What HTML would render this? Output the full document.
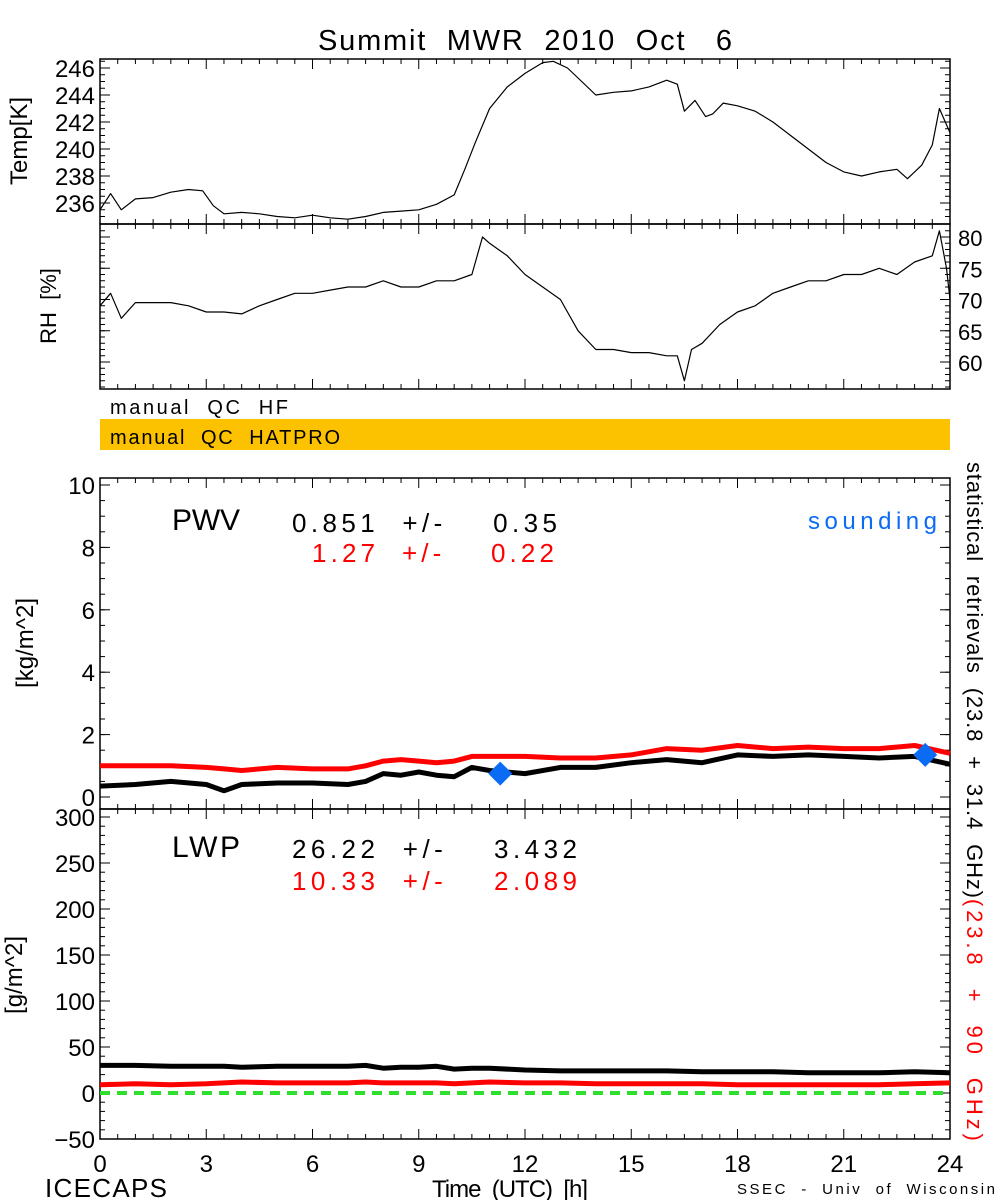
<!DOCTYPE html>
<html><head><meta charset="utf-8"><style>
body{margin:0;background:#fff}
svg{display:block}
text{font-family:"Liberation Sans",sans-serif;white-space:pre}
</style></head><body>
<svg id="c" width="1000" height="1200" viewBox="0 0 1000 1200">
<text x="318" y="50" font-size="29" textLength="414" lengthAdjust="spacing">Summit  MWR  2010  Oct   6</text>
<g id="g"></g>
</svg>
<script>
const tempHours=[0,0.3,0.6,1,1.5,2,2.5,2.9,3.2,3.5,4,4.5,5,5.5,6,6.5,7,7.5,8,8.5,9,9.5,10,10.3,10.6,11,11.5,12,12.5,12.8,13.2,13.6,14,14.5,15,15.5,16,16.3,16.5,16.8,17.1,17.3,17.6,18,18.5,19,19.5,20,20.5,21,21.5,22,22.5,22.8,23.2,23.5,23.7,24];
const tempValues=[235.5,236.7,235.5,236.3,236.4,236.8,237,236.9,235.8,235.2,235.3,235.2,235.0,234.9,235.1,234.9,234.8,235.0,235.3,235.4,235.5,235.9,236.6,238.5,240.5,243,244.6,245.6,246.4,246.5,246.0,245.0,244.0,244.2,244.3,244.6,245.1,244.8,242.8,243.6,242.4,242.6,243.4,243.2,242.8,242.0,241.0,240.0,239.0,238.3,238.0,238.3,238.5,237.8,238.8,240.3,243.0,241.2];
const rhHours=[0,0.3,0.6,1,1.5,2,2.5,3,3.5,4,4.5,5,5.5,6,6.5,7,7.5,8,8.5,9,9.5,10,10.5,10.8,11,11.5,12,12.5,13,13.5,14,14.5,15,15.5,16,16.3,16.5,16.7,17,17.5,18,18.5,19,19.5,20,20.5,21,21.5,22,22.5,23,23.5,23.7,23.9,24];
const rhValues=[69,71,67,69.5,69.5,69.5,69,68,68,67.7,69,70,71,71,71.5,72,72,73,72,72,73,73,74,80,79,77,74,72,70,65,62,62,61.5,61.5,61,61,57,62,63,66,68,69,71,72,73,73,74,74,75,74,76,77,81,75,70];
const hours=[0,1,2,3,3.5,4,5,6,7,7.5,8,8.5,9,9.5,10,10.5,11,12,13,14,15,16,17,18,19,20,21,22,23,24];
const pwvBlack=[0.35,0.4,0.5,0.4,0.2,0.4,0.45,0.45,0.4,0.5,0.75,0.7,0.8,0.7,0.65,0.95,0.85,0.75,0.95,0.95,1.1,1.2,1.1,1.35,1.3,1.35,1.3,1.25,1.3,1.05];
const pwvRed=[1.0,1.0,1.0,0.95,0.9,0.85,0.95,0.9,0.9,1.0,1.15,1.2,1.15,1.1,1.15,1.3,1.3,1.3,1.25,1.25,1.35,1.55,1.5,1.65,1.55,1.6,1.55,1.55,1.65,1.4];
const soundHours=[11.3,23.3];
const soundValues=[0.75,1.35];
const lwpBlack=[30,30,29,29,29,28,29,29,29,30,27,28,28,29,26,27,27,25,24,24,24,24,23,23,23,22,22,22,23,22];
const lwpRed=[9,10,9,10,11,12,11,11,11,12,11,11,11,11,10,11,12,11,11,10,10,10,10,9,9,9,9,9,10,11];
const xTicks=[0,3,6,9,12,15,18,21,24];
const tempTicks=[236,238,240,242,244,246];
const rhTicks=[60,65,70,75,80];
const pwvTicks=[0,2,4,6,8,10];
const lwpTicks=[-50,0,50,100,150,200,250,300];

const X0=100,X1=950;
const xs=h=>X0+(X1-X0)*h/24;
const lin=(d0,d1,r0,r1)=>v=>r0+(v-d0)*(r1-r0)/(d1-d0);
const yT=lin(236,246,203,68), yR=lin(60,80,362,237), yP=lin(0,10,797,485), yL=lin(0,300,1093,817);
const NS='http://www.w3.org/2000/svg', G=document.getElementById('g');
function mk(tag,at,txt){const e=document.createElementNS(NS,tag);for(const k in at)e.setAttribute(k,at[k]);if(txt!==undefined)e.textContent=txt;G.appendChild(e);return e;}
function frame(top,bot,name){
 const r=mk('rect',{x:X0,y:top,width:X1-X0,height:bot-top,fill:'none',stroke:'#000','stroke-width':1.5});
 
 
 for(let h=0;h<=24;h+=0.5){const L=(h%3===0)?10:5;
  mk('line',{x1:xs(h),x2:xs(h),y1:bot,y2:bot-L,stroke:'#000'});
  mk('line',{x1:xs(h),x2:xs(h),y1:top,y2:top+L,stroke:'#000'});}
}
function yticks(ticks,f,minStep,lo,hi,labSide,name,fs){
 for(let v=lo;v<=hi+1e-9;v+=minStep){const y=f(v);
  mk('line',{x1:X0,x2:X0+5,y1:y,y2:y,stroke:'#000'});mk('line',{x1:X1,x2:X1-5,y1:y,y2:y,stroke:'#000'});}
 ticks.forEach(v=>{const y=f(v);
  mk('line',{x1:X0,x2:X0+10,y1:y,y2:y,stroke:'#000'});mk('line',{x1:X1,x2:X1-10,y1:y,y2:y,stroke:'#000'});
  if(labSide){const t=mk('text',{x:labSide==='l'?X0-5:X1+8,y:y+9,'font-size':fs||24,'text-anchor':labSide==='l'?'end':'start'},String(v).replace('-','\u2212'));
   
   }
 });
}
function line(hs,vs,f,col,w,name){
 const d=hs.map((h,i)=>(i?'L':'M')+xs(h).toFixed(1)+','+f(vs[i]).toFixed(1)).join('');
 const p=mk('path',{d:d,fill:'none',stroke:col,'stroke-width':w,'stroke-linejoin':'round'});
 
 
 return p;
}
function txt(at,s,name){const e=mk('text',at,s);
 
 
 return e;}
// Temp
frame(59,224,'temp-panel');
yticks(tempTicks,yT,0.5,235,246.5,'l','temp',24);
line(tempHours,tempValues,yT,'#000',1.2,'temp-line');
txt({transform:'translate(27,141) rotate(-90)','font-size':24,'text-anchor':'middle'},'Temp[K]','temp-axis-title');
// RH
frame(224,389,'rh-panel');
yticks(rhTicks,yR,1,56,81,'r','rh',22);
line(rhHours,rhValues,yR,'#000',1.2,'rh-line');
txt({transform:'translate(56,306) rotate(-90)','font-size':22,'text-anchor':'middle'},'RH  [%]','rh-axis-title');
// QC bars
txt({x:110,y:414,'font-size':20,textLength:178},'manual  QC  HF','qc-hf-label');
let r=mk('rect',{x:100,y:419,width:850,height:31,fill:'#fcc200'});

txt({x:110,y:444,'font-size':20,textLength:230},'manual  QC  HATPRO','qc-hatpro-label');
// PWV
frame(478,809,'pwv-panel');
yticks(pwvTicks,yP,0.5,0,10,'l','pwv',24);
line(hours,pwvRed,yP,'#f00',5,'pwv-red-line');
line(hours,pwvBlack,yP,'#000',5,'pwv-black-line');
soundHours.forEach((h,i)=>{const x=xs(h),y=yP(soundValues[i]);
 const p=mk('path',{d:`M${x},${y-12}L${x+12},${y}L${x},${y+12}L${x-12},${y}Z`,fill:'#0a6cf5'});
 
 });
txt({transform:'translate(33,643) rotate(-90)','font-size':24,'text-anchor':'middle'},'[kg/m^2]','pwv-axis-title');
txt({x:172,y:530,'font-size':30,textLength:68},'PWV','pwv-label');
txt({x:292,y:532,'font-size':26,textLength:265},'0.851  +/-    0.35','pwv-stat-black');
txt({x:312,y:562,'font-size':26,fill:'#f00',textLength:242},'1.27  +/-    0.22','pwv-stat-red');
txt({x:808,y:529,'font-size':24,fill:'#0a6cf5',textLength:129},'sounding','sounding-legend');
// LWP
frame(809,1139,'lwp-panel');
yticks(lwpTicks,yL,10,-50,300,'l','lwp',24);
const z=line([0,24],[0,0],yL,'#2ee02e',4,'lwp-zero-line');
z.setAttribute('stroke-dasharray','10,7');
line(hours,lwpBlack,yL,'#000',5,'lwp-black-line');
line(hours,lwpRed,yL,'#f00',5,'lwp-red-line');
txt({transform:'translate(22,975) rotate(-90)','font-size':24,'text-anchor':'middle'},'[g/m^2]','lwp-axis-title');
txt({x:172,y:857,'font-size':30,textLength:68},'LWP','lwp-label');
txt({x:292,y:858,'font-size':26,textLength:285},'26.22  +/-    3.432','lwp-stat-black');
txt({x:292,y:890,'font-size':26,fill:'#f00',textLength:285},'10.33  +/-    2.089','lwp-stat-red');
// x labels
xTicks.forEach(h=>{const e=mk('text',{x:xs(h),y:1172,'font-size':24,'text-anchor':'middle'},String(h));
 
 });
txt({x:432,y:1197,'font-size':24,textLength:156},'Time  (UTC)  [h]','x-axis-title');
txt({x:45,y:1197,'font-size':26,textLength:122},'ICECAPS','icecaps-label');
txt({x:737,y:1194,'font-size':15,textLength:258},'SSEC  -  Univ  of  Wisconsin','credit-label');
// right vertical label
const t=txt({transform:'translate(967,462) rotate(90)','font-size':22},undefined,'retrieval-legend');
const s1=document.createElementNS(NS,'tspan');s1.setAttribute('textLength','436');s1.textContent='statistical  retrievals  (23.8  +  31.4  GHz)';t.appendChild(s1);
const s2=document.createElementNS(NS,'tspan');s2.setAttribute('fill','#f00');s2.setAttribute('textLength','242');s2.textContent='(23.8  +  90  GHz)';t.appendChild(s2);
</script>
</body></html>
